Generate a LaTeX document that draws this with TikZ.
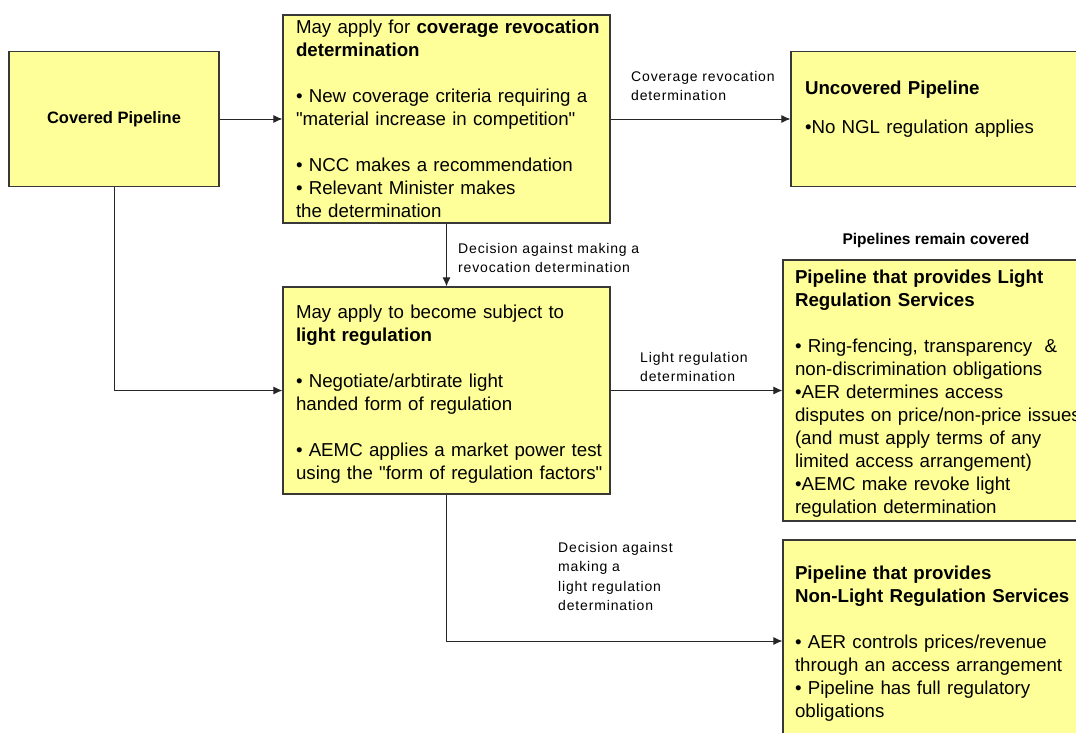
\documentclass[tikz,border=0pt]{standalone}
\usepackage{fontspec}
\newfontfamily\pipefont{Liberation Sans}
\usetikzlibrary{arrows.meta}
\definecolor{boxyellow}{HTML}{FFFF99}
\definecolor{boxedge}{HTML}{383838}
\hyphenpenalty=10000

\begin{document}
\begin{tikzpicture}[x=1pt,y=-1pt]
% Styles
\tikzset{
box/.style={draw=boxedge, fill=boxyellow, line width=1.2pt, rectangle, align=left, inner sep=0pt, font=\pipefont\fontsize{18.7}{23}\selectfont},
midbox/.style={box, minimum width=327pt, text width=301pt},
sidebox/.style={box, minimum width=312pt, text width=288pt},
flow/.style={draw=black!85, line width=0.9pt, -{Latex[length=9pt,width=8pt]}},
tag/.style={anchor=west, align=left, inner sep=0pt, font=\pipefont\fontsize{14}{19.5}\selectfont\addfontfeature{LetterSpace=6}}
}
% Cadre
\useasboundingbox (0,0) rectangle (1076,733);
\clip (0,0) rectangle (1076,733);
% Pipeline couvert
\node[box, minimum width=210pt, minimum height=135pt, font=\pipefont\fontsize{16.5}{20}\selectfont\bfseries] (cov) at (114,119) {Covered Pipeline};
% Demande de revocation
\node[midbox, minimum height=208pt] (revoke) at (446.5,119) {\mbox{May apply for \textbf{coverage revocation}}\\ \textbf{determination}\\[23pt] • New coverage criteria requiring a\\ "material increase in competition"\\[23pt] • NCC makes a recommendation\\ • Relevant Minister makes\\ the determination};
% Pipeline non couvert
\node[sidebox, minimum height=135pt, text width=284pt] (uncov) at (947,119) {\textbf{Uncovered Pipeline}\\[16pt] •No NGL regulation applies\\ \mbox{}};
% Regulation legere
\node[midbox, minimum height=207pt] (light) at (446.5,390.5) {\rule{0pt}{21.7pt}May apply to become subject to\\ \textbf{light regulation}\\[23pt] • Negotiate/arbtirate light\\ handed form of regulation\\[23pt] \mbox{• AEMC applies a market power test}\\ \mbox{using the "form of regulation factors"}};
% Services legers
\node[sidebox, minimum height=261pt] (lightsvc) at (939,390.5) {\rule{0pt}{19.7pt}\textbf{Pipeline that provides Light}\\ \textbf{Regulation Services}\\[23pt] • Ring-fencing, transparency~ \&\\ non-discrimination obligations\\ •AER determines access\\ \mbox{disputes on price/non-price issues}\\ (and must apply terms of any\\ limited access arrangement)\\ •AEMC make revoke light\\ regulation determination};
% Services non legers
\node[sidebox, minimum height=202pt] (nonlight) at (939,641) {\rule{0pt}{19.7pt}\textbf{Pipeline that provides}\\ \textbf{Non-Light Regulation Services}\\[23pt] • AER controls prices/revenue\\ through an access arrangement\\ • Pipeline has full regulatory\\ obligations};
% Titre
\node[inner sep=0pt, font=\pipefont\fontsize{15.5}{18}\selectfont\bfseries] (remain) at (936,240) {Pipelines remain covered};
% Fleches
\draw[flow] (cov) -- (revoke);
\draw[flow] (revoke) -- (uncov);
\draw[flow] (revoke) -- (light);
\draw[flow] (cov.south) |- (light.west);
\draw[flow] (light) -- (lightsvc);
\draw[flow] (light.south) |- (nonlight.west);
% Etiquettes
\node[tag] (tcov) at (631,86) {Coverage revocation\\determination};
\node[tag] (tdec) at (458,258) {Decision against making a\\revocation determination};
\node[tag] (tlight) at (640,367) {Light regulation\\determination};
\node[tag] (tnon) at (558,576.5) {Decision against\\making a\\light regulation\\determination};
\end{tikzpicture}
\end{document}
